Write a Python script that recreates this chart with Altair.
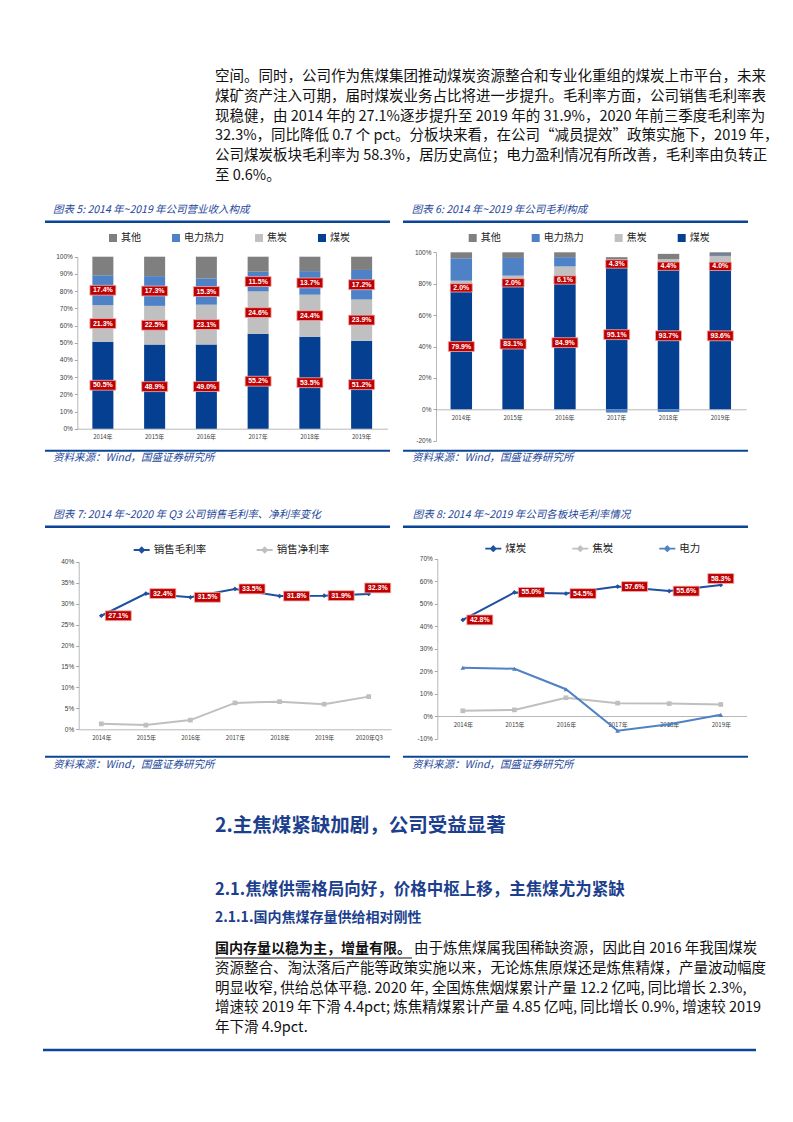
import altair as alt
import pandas as pd

W, H = 777, 1106
CJK = "Noto Sans CJK SC"
NUM = "Liberation Sans"
BLUE_T = "#24479a"
HEAD = "#1c3f8e"
RULE = "#0b4596"
RED = "#c00000"

# ---------------- data ----------------
years = ["2014年", "2015年", "2016年", "2017年", "2018年", "2019年"]
years_q = ["2014年", "2015年", "2016年", "2017年", "2018年", "2019年", "2020年Q3"]
seg_names = ["其他", "电力热力", "焦炭", "煤炭"]

# Fig 5: revenue structure (%)
rev_coal = [50.5, 48.9, 49.0, 55.2, 53.5, 51.2]
rev_coke = [21.3, 22.5, 23.1, 24.6, 24.4, 23.9]
rev_power = [17.4, 17.3, 15.3, 11.5, 13.7, 17.2]
rev_other = [10.8, 11.3, 12.6, 8.7, 8.4, 7.7]

# Fig 6: gross profit structure (%)
gp_coal = [79.9, 83.1, 84.9, 95.1, 93.7, 93.6]
gp_coke = [2.0, 2.0, 6.1, 0.3, 1.9, 4.0]
gp_power = [14.3, 11.3, 5.9, -2.1, -1.7, 0.6]
gp_other = [3.8, 3.6, 3.1, 1.5, 3.4, 1.8]
gp_coke_label = [2.0, 2.0, 6.1, 4.3, 4.4, 4.0]

# Fig 7: margins (%)
margin_names = ["销售毛利率", "销售净利率"]
gross_margin = [27.1, 32.4, 31.5, 33.5, 31.8, 31.9, 32.3]
net_margin = [1.3, 1.0, 2.2, 6.3, 6.6, 6.0, 7.8]

# Fig 8: segment gross margin (%)
seg_line_names = ["煤炭", "焦炭", "电力"]
seg_coal = [42.8, 55.0, 54.5, 57.6, 55.6, 58.3]
seg_coke = [2.4, 2.8, 8.2, 5.8, 5.6, 5.2]
seg_power = [21.5, 21.1, 12.0, -6.5, -3.6, 0.6]

stack_order = {"煤炭": 0, "焦炭": 1, "电力热力": 2, "其他": 3}
bar_colors = ["#7f7f7f", "#4f81c7", "#c0c0c0", "#053f92"]


def long(cats, series):
    rows = []
    for name, vals in series:
        for c, v in zip(cats, vals):
            rows.append({"cat": c, "s": name, "v": v, "ord": stack_order.get(name, 0)})
    return pd.DataFrame(rows)


df5 = long(years, [("煤炭", rev_coal), ("焦炭", rev_coke), ("电力热力", rev_power), ("其他", rev_other)])
df6 = long(years, [("煤炭", gp_coal), ("焦炭", gp_coke), ("电力热力", gp_power), ("其他", gp_other)])
df6_top = pd.DataFrame({"cat": years, "y": gp_coal, "lab": gp_coke_label})
df6_mid = pd.DataFrame({"cat": years, "c": gp_coal})
df7 = long(years_q, [("销售毛利率", gross_margin), ("销售净利率", net_margin)])
df7_lab = pd.DataFrame({"cat": years_q, "v": gross_margin})
df8 = long(years, [("煤炭", seg_coal), ("焦炭", seg_coke), ("电力", seg_power)])
df8_lab = pd.DataFrame({"cat": years, "v": seg_coal})

dummy = alt.InlineData(values=[{"k": 0}])
BOX = "M-1,-0.38H1V0.38H-1Z"
LINE_SYM = "M-1,0H1M0,-0.3L0.3,0L0,0.3L-0.3,0Z"


def xaxis(ypos):
    return alt.Axis(orient="bottom", offset=ypos - H, ticks=False, grid=False,
                    domainColor="#a6a6a6", domainWidth=0.8, labelFont=CJK,
                    labelFontSize=6, labelColor="#404040", labelPadding=5,
                    labelAngle=0, title=None, labelOverlap=False)


def yaxis(xpos, vals):
    return alt.Axis(orient="left", offset=-xpos, values=vals, grid=False,
                    labelExpr="datum.value + '%'", domainColor="#a6a6a6",
                    domainWidth=0.8, tickColor="#a6a6a6", tickSize=3,
                    labelFont=NUM, labelFontSize=6.5, labelColor="#404040",
                    labelPadding=2, title=None, labelOverlap=False)


def bar_legend(lx, ly):
    return alt.Legend(orient="none", legendX=lx, legendY=ly, direction="horizontal",
                      title=None, symbolType="square", symbolSize=64,
                      labelFont=CJK, labelFontSize=10, labelColor="#222222",
                      columnPadding=30, labelOffset=3, padding=0)


def line_legend(lx, ly, pad):
    return alt.Legend(orient="none", legendX=lx, legendY=ly, direction="horizontal",
                      title=None, symbolType=LINE_SYM, symbolSize=256,
                      symbolStrokeWidth=1.8, labelFont=CJK, labelFontSize=10.5,
                      labelColor="#222222", columnPadding=pad, labelOffset=3, padding=0)


def boxes(base, xs, ys, yfield, xoff=0, yoff=0):
    b = base.transform_calculate(
        sz="length(datum.txt) > 4 ? 676 : 484"
    )
    box = b.mark_point(shape=BOX, filled=True, fill=RED, stroke="#eeb0b0",
                       strokeWidth=0.8, opacity=1, xOffset=xoff, yOffset=yoff).encode(
        x=alt.X("cat:N", scale=xs, axis=None),
        y=alt.Y(f"{yfield}:Q", scale=ys, axis=None),
        size=alt.Size("sz:Q", scale=None, legend=None),
    )
    t = b.mark_text(font=NUM, fontWeight="bold", fontSize=7, color="white",
                    baseline="middle", align="center", xOffset=xoff, yOffset=yoff).encode(
        x=alt.X("cat:N", scale=xs, axis=None),
        y=alt.Y(f"{yfield}:Q", scale=ys, axis=None),
        text="txt:N",
    )
    return [box, t]


def txt(s, x, y, size=14.5, color="#111111", weight="normal", italic=False, font=CJK):
    return alt.Chart(dummy).mark_text(
        text=s, font=font, fontSize=size, color=color, fontWeight=weight,
        fontStyle="italic" if italic else "normal", align="left", baseline="middle"
    ).encode(x=alt.value(x), y=alt.value(y))


def hrule(x1, x2, y, w=2.5, color=RULE):
    return alt.Chart(dummy).mark_rule(color=color, strokeWidth=w).encode(
        x=alt.value(x1), x2=alt.value(x2), y=alt.value(y))


layers = []

# ---------------- Fig 5 ----------------
xs5 = alt.Scale(type="band", domain=years, range=[69, 379.5], paddingInner=0.594, paddingOuter=0.297)
ys5 = alt.Scale(domain=[0, 100], range=[420.7, 248.7], nice=False, zero=False)
layers.append(alt.Chart(df5).mark_bar().encode(
    x=alt.X("cat:N", scale=xs5, axis=xaxis(420.7)),
    y=alt.Y("v:Q", stack="zero", scale=ys5, axis=yaxis(69.3, list(range(0, 101, 10)))),
    color=alt.Color("s:N", scale=alt.Scale(domain=seg_names, range=bar_colors), legend=bar_legend(100, 225)),
    order=alt.Order("ord:Q", sort="ascending"),
))
base5 = alt.Chart(df5).transform_stack(
    stack="v", as_=["v0", "v1"], groupby=["cat"], sort=[alt.SortField("ord", order="ascending")]
).transform_filter("datum.s != '其他'").transform_calculate(
    mid="(datum.v0 + datum.v1) / 2", txt="format(datum.v, '.1f') + '%'"
)
layers += boxes(base5, xs5, ys5, "mid")

# ---------------- Fig 6 ----------------
xs6 = alt.Scale(type="band", domain=years, range=[427.4, 738.2], paddingInner=0.585, paddingOuter=0.2925)
ys6 = alt.Scale(domain=[-20, 100], range=[432.7, 244.3], nice=False, zero=False)
layers.append(alt.Chart(df6).mark_bar().encode(
    x=alt.X("cat:N", scale=xs6, axis=xaxis(401.3)),
    y=alt.Y("v:Q", stack="zero", scale=ys6, axis=yaxis(428, list(range(-20, 101, 20)))),
    color=alt.Color("s:N", scale=alt.Scale(domain=seg_names, range=bar_colors), legend=bar_legend(459.7, 225)),
    order=alt.Order("ord:Q", sort="ascending"),
))
base6t = alt.Chart(df6_top).transform_calculate(txt="format(datum.lab, '.1f') + '%'")
layers += boxes(base6t, xs6, ys6, "y", yoff=4)
base6m = alt.Chart(df6_mid).transform_calculate(mid="datum.c / 2", txt="format(datum.c, '.1f') + '%'")
layers += boxes(base6m, xs6, ys6, "mid")

# ---------------- Fig 7 ----------------
xs7 = alt.Scale(type="point", domain=years_q, range=[71, 383], padding=0.5)
ys7 = alt.Scale(domain=[0, 40], range=[721.3, 553.7], nice=False, zero=False)
c7 = alt.Scale(domain=margin_names, range=["#1f4f9f", "#bfbfbf"])
layers.append(alt.Chart(df7).mark_line(strokeWidth=2).encode(
    x=alt.X("cat:N", scale=xs7, axis=xaxis(721.3)),
    y=alt.Y("v:Q", scale=ys7, axis=yaxis(70.7, list(range(0, 41, 5)))),
    color=alt.Color("s:N", scale=c7, legend=line_legend(124.7, 533, 46)),
))
layers.append(alt.Chart(df7).mark_point(filled=True, size=22, opacity=1).encode(
    x=alt.X("cat:N", scale=xs7, axis=None),
    y=alt.Y("v:Q", scale=ys7, axis=None),
    color=alt.Color("s:N", scale=c7, legend=None),
    shape=alt.Shape("s:N", scale=alt.Scale(domain=margin_names, range=["diamond", "square"]), legend=None),
))
base7 = alt.Chart(df7_lab).transform_calculate(txt="format(datum.v, '.1f') + '%'")
layers += boxes(base7.transform_filter("datum.cat != '2020年Q3'"), xs7, ys7, "v", xoff=17)
layers += boxes(base7.transform_filter("datum.cat == '2020年Q3'"), xs7, ys7, "v", xoff=9, yoff=-6)

# ---------------- Fig 8 ----------------
xs8 = alt.Scale(type="point", domain=years, range=[429, 738.6], padding=0.5)
ys8 = alt.Scale(domain=[-10, 70], range=[730.7, 550.7], nice=False, zero=False)
c8 = alt.Scale(domain=seg_line_names, range=["#1f4f9f", "#bfbfbf", "#4f81c4"])
layers.append(alt.Chart(df8).mark_line(strokeWidth=2).encode(
    x=alt.X("cat:N", scale=xs8, axis=xaxis(708)),
    y=alt.Y("v:Q", scale=ys8, axis=yaxis(429.3, list(range(-10, 71, 10)))),
    color=alt.Color("s:N", scale=c8, legend=line_legend(476.3, 531.7, 42)),
))
layers.append(alt.Chart(df8).mark_point(filled=True, size=22, opacity=1).encode(
    x=alt.X("cat:N", scale=xs8, axis=None),
    y=alt.Y("v:Q", scale=ys8, axis=None),
    color=alt.Color("s:N", scale=c8, legend=None),
    shape=alt.Shape("s:N", scale=alt.Scale(domain=seg_line_names, range=["diamond", "square", "triangle-up"]), legend=None),
))
base8 = alt.Chart(df8_lab).transform_calculate(txt="format(datum.v, '.1f') + '%'")
layers += boxes(base8.transform_filter("datum.cat != '2019年'"), xs8, ys8, "v", xoff=17)
layers += boxes(base8.transform_filter("datum.cat == '2019年'"), xs8, ys8, "v", xoff=0, yoff=-6.5)

# ---------------- frames: titles, rules, sources ----------------
src = "资料来源：Wind，国盛证券研究所"
layers += [
    txt("图表 5: 2014 年~2019 年公司营业收入构成", 45, 202, 10.5, BLUE_T, italic=True),
    txt("图表 6: 2014 年~2019 年公司毛利构成", 403.7, 202, 10.5, BLUE_T, italic=True),
    txt("图表 7: 2014 年~2020 年 Q3 公司销售毛利率、净利率变化", 45.3, 507, 10.5, BLUE_T, italic=True),
    txt("图表 8: 2014 年~2019 年公司各板块毛利率情况", 404.7, 507, 10.5, BLUE_T, italic=True),
    txt(src, 45, 450, 10.5, BLUE_T, italic=True),
    txt(src, 404, 450, 10.5, BLUE_T, italic=True),
    txt(src, 45, 757, 10.5, BLUE_T, italic=True),
    txt(src, 404, 757, 10.5, BLUE_T, italic=True),
    hrule(37, 382, 213.7), hrule(395, 740, 213.7),
    hrule(37, 382, 442.7, 2), hrule(395, 740, 442.7, 2),
    hrule(37, 382, 518.7), hrule(395, 740, 518.7),
    hrule(37, 382, 748.7, 2), hrule(395, 740, 748.7, 2),
    hrule(35, 748, 1042, 2.5),
]

# ---------------- body text ----------------
head_lines = [
    "空间。同时，公司作为焦煤集团推动煤炭资源整合和专业化重组的煤炭上市平台，未来",
    "煤矿资产注入可期，届时煤炭业务占比将进一步提升。毛利率方面，公司销售毛利率表",
    "现稳健，由 2014 年的 27.1%逐步提升至 2019 年的 31.9%，2020 年前三季度毛利率为",
    "32.3%，同比降低 0.7 个 pct。分板块来看，在公司“减员提效”政策实施下，2019 年，",
    "公司煤炭板块毛利率为 58.3%，居历史高位；电力盈利情况有所改善，毛利率由负转正",
    "至 0.6%。",
]
for i, s in enumerate(head_lines):
    layers.append(txt(s, 207, 69 + i * 19.8))

layers += [
    txt("2.主焦煤紧缺加剧，公司受益显著", 207, 818, 19.5, HEAD, weight="bold"),
    txt("2.1.焦煤供需格局向好，价格中枢上移，主焦煤尤为紧缺", 207, 881.5, 16.5, HEAD, weight="bold"),
    txt("2.1.1.国内焦煤存量供给相对刚性", 207, 909.7, 14, HEAD, weight="bold"),
    txt("国内存量以稳为主，增量有限。", 207, 941, 14, "#111111", weight="bold"),
    hrule(207, 404, 950, 1.2, "#111111"),
    txt("由于炼焦煤属我国稀缺资源，因此自 2016 年我国煤炭", 406, 941),
]
para_lines = [
    "资源整合、淘汰落后产能等政策实施以来，无论炼焦原煤还是炼焦精煤，产量波动幅度",
    "明显收窄, 供给总体平稳. 2020 年, 全国炼焦烟煤累计产量 12.2 亿吨, 同比增长 2.3%,",
    "增速较 2019 年下滑 4.4pct; 炼焦精煤累计产量 4.85 亿吨, 同比增长 0.9%, 增速较 2019",
    "年下滑 4.9pct.",
]
for i, s in enumerate(para_lines):
    layers.append(txt(s, 207, 961 + i * 19.7))

chart = alt.layer(*layers).resolve_scale(
    x="independent", y="independent", color="independent", shape="independent", size="independent"
).resolve_axis(x="independent", y="independent").resolve_legend(
    color="independent", shape="independent", size="independent"
).properties(
    width=W, height=H, autosize=alt.AutoSizeParams(type="none"), padding=0
).configure(background="white").configure_view(stroke=None, strokeWidth=0)

chart.save("out.html", embed_options={"renderer": "svg", "actions": False})
